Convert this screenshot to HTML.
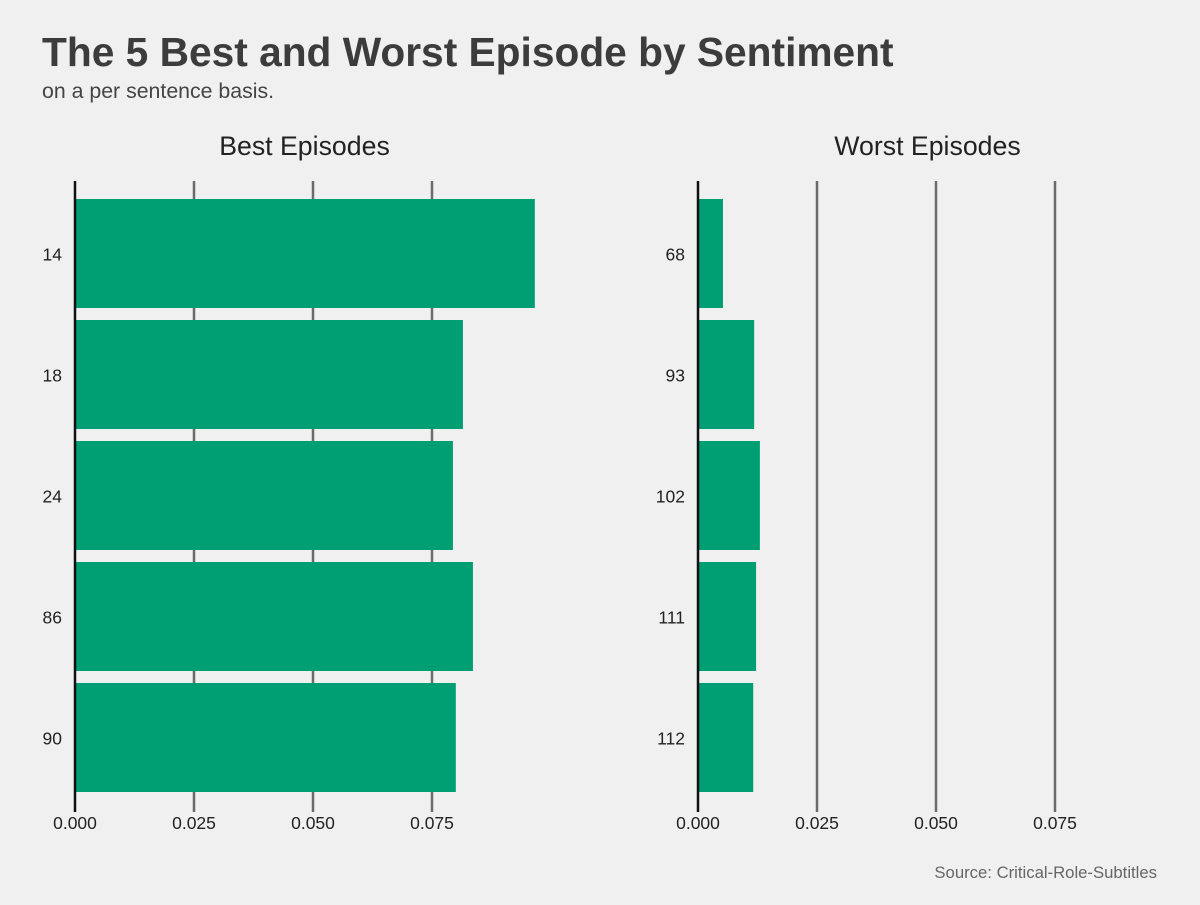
<!DOCTYPE html>
<html><head><meta charset="utf-8"><style>
body{margin:0;background:#f0f0f0;font-family:"Liberation Sans",sans-serif;}
</style></head><body>
<svg width="1200" height="900" xmlns="http://www.w3.org/2000/svg">
<rect width="1200" height="900" fill="#f0f0f0"/>
<text x="42" y="66" font-size="40.7" font-weight="bold" fill="#3c3c3c">The 5 Best and Worst Episode by Sentiment</text>
<text x="42" y="98" font-size="21.3" fill="#444">on a per sentence basis.</text>
<text x="1157" y="878" font-size="16.7" fill="#666" text-anchor="end">Source: Critical-Role-Subtitles</text>
<g id="left"></g>
<g id="right"></g>
</svg>
<script>
const bestCats=["14","18","24","86","90"];
const bestVals=[0.0966,0.0815,0.0794,0.0836,0.0800];
const worstCats=["68","93","102","111","112"];
const worstVals=[0.00525,0.0118,0.0130,0.0122,0.0116];
const ticks=[0,0.025,0.05,0.075];
const tickLabels=["0.000","0.025","0.050","0.075"];
const NS="http://www.w3.org/2000/svg";
function mk(p,t,a){const e=document.createElementNS(NS,t);for(const k in a)e.setAttribute(k,a[k]);p.appendChild(e);return e;}
function panel(g,x0,title,cats,vals,key){
  const xs=v=>x0+v*4760;
  const top=193,band=121,barH=109;
  const t=mk(g,"text",{x:x0+229.5,y:155,"font-size":26.7,fill:"#222","text-anchor":"middle"});t.textContent=title;
  
  
  ticks.forEach((v,i)=>{
    if(i>0){const l=mk(g,"line",{x1:xs(v),x2:xs(v),y1:181,y2:812,stroke:"#6b6b6b","stroke-width":2.5});
    
    }
    const tl=mk(g,"text",{x:xs(v),y:829,"font-size":17.5,fill:"#222","text-anchor":"middle"});tl.textContent=tickLabels[i];
    
    
  });
  cats.forEach((c,i)=>{
    const y=top+band*i+6;
    const r=mk(g,"rect",{x:xs(0),y:y,width:xs(vals[i])-xs(0),height:barH,fill:"#009e73"});
    
    
    const lb=mk(g,"text",{x:x0-13,y:y+barH/2+7,"font-size":17.5,fill:"#222","text-anchor":"end"});lb.textContent=c;
    
    
  });
  const ax=mk(g,"line",{x1:x0,x2:x0,y1:181,y2:812,stroke:"#111","stroke-width":2.5});
  
  
}
panel(document.getElementById("left"),75,"Best Episodes",bestCats,bestVals,"best");
panel(document.getElementById("right"),698,"Worst Episodes",worstCats,worstVals,"worst");
</script>
</body></html>
